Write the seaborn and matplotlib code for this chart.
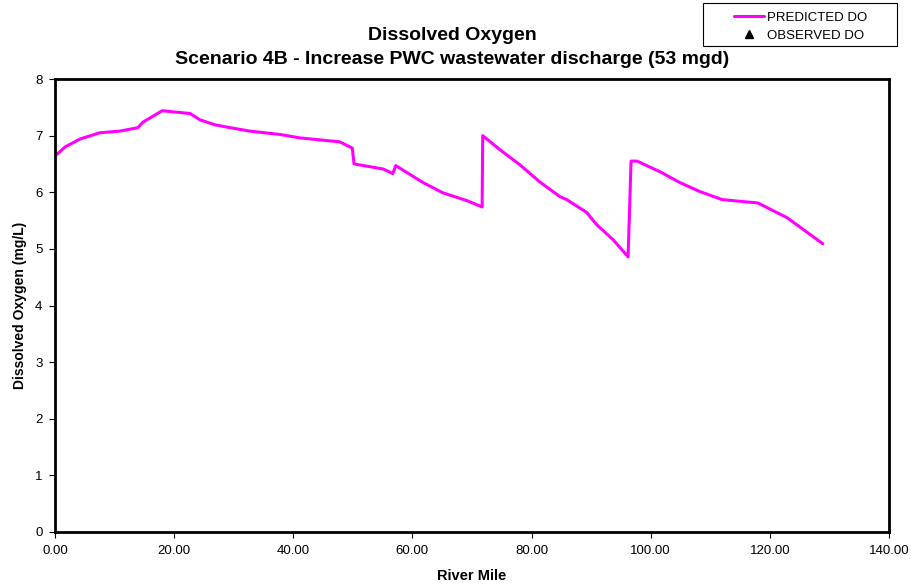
import numpy as np
import pandas as pd
import matplotlib
matplotlib.use('Agg')
import matplotlib.pyplot as plt
from matplotlib.lines import Line2D
from matplotlib.patches import Rectangle
import seaborn as sns

# --- data ---
river_mile = [0.0, 1.7, 4.2, 7.5, 10.9, 13.9, 14.8, 18.0, 19.8, 22.7, 24.3, 26.9,
              29.4, 32.7, 37.8, 41.1, 47.8, 49.9, 50.2, 55.1, 56.7, 57.2, 61.8,
              65.1, 69.2, 71.7, 71.8, 74.7, 78.1, 81.4, 84.8, 85.9, 89.3, 89.8,
              91.0, 93.7, 96.2, 96.7, 97.7, 101.6, 104.9, 108.3, 112.0, 118.0,
              122.9, 128.9]
predicted_do = [6.64, 6.80, 6.94, 7.05, 7.08, 7.14, 7.24, 7.44, 7.42, 7.39, 7.28, 7.19,
                7.14, 7.08, 7.02, 6.96, 6.89, 6.78, 6.50, 6.41, 6.33, 6.47, 6.17,
                5.99, 5.85, 5.74, 7.00, 6.75, 6.48, 6.18, 5.92, 5.87, 5.64, 5.57,
                5.42, 5.16, 4.86, 6.55, 6.55, 6.36, 6.17, 6.01, 5.87, 5.81,
                5.55, 5.09]
x_ticks = [0, 20, 40, 60, 80, 100, 120, 140]
y_ticks = [0, 1, 2, 3, 4, 5, 6, 7, 8]

df = pd.DataFrame({'River Mile': river_mile, 'DO': predicted_do})

sns.set_style('white')
plt.rcParams['font.family'] = ['Liberation Sans', 'DejaVu Sans']
plt.rcParams['text.color'] = 'black'
plt.rcParams['axes.labelcolor'] = 'black'

W, H = 912, 586
fig = plt.figure(figsize=(W / 100, H / 100), dpi=100)
ax = fig.add_axes([55 / W, 1 - 532 / H, (889 - 55) / W, (532 - 79) / H])

sns.lineplot(data=df, x='River Mile', y='DO', ax=ax, color='#FF00FF',
             linewidth=2.2, sort=False, estimator=None)

ax.set_xlim(0, 140)
ax.set_ylim(0, 8)
ax.set_xticks(x_ticks)
ax.set_xticklabels([f'{v:.2f}' for v in x_ticks])
ax.set_yticks(y_ticks)
ax.set_yticklabels([str(v) for v in y_ticks])
ax.tick_params(axis='both', direction='out', length=4, width=0.8, color='black',
               labelsize=9.5, labelcolor='black', bottom=True, left=True, pad=5)
for s in ax.spines.values():
    s.set_color('black')
    s.set_linewidth(2)

ax.set_xlabel('River Mile', fontsize=10.5, fontweight='bold', labelpad=9)
ax.set_ylabel('Dissolved Oxygen (mg/L)', fontsize=10, fontweight='bold', labelpad=6)

fig.text(452 / W, 1 - 36 / H, 'Dissolved Oxygen', ha='center', va='center',
         fontsize=14, fontweight='bold')
fig.text(452 / W, 1 - 59 / H, 'Scenario 4B - Increase PWC wastewater discharge (53 mgd)',
         ha='center', va='center', fontsize=14, fontweight='bold')

# legend box
fig.add_artist(Rectangle((703 / W, 1 - 46 / H), 194 / W, 43 / H, transform=fig.transFigure,
                         fill=False, edgecolor='black', linewidth=0.8))
handles = [Line2D([], [], color='#FF00FF', linewidth=2.2),
           Line2D([], [], color='black', marker='^', linestyle='None', markersize=6)]
fig.legend(handles, ['PREDICTED DO', 'OBSERVED DO'], loc='upper left',
           bbox_to_anchor=(727 / W, 1 - 5 / H), frameon=False, fontsize=9.5,
           borderpad=0, handlelength=2.3, handletextpad=0.2, labelspacing=0.45)

fig.savefig('out.png', dpi=100)
